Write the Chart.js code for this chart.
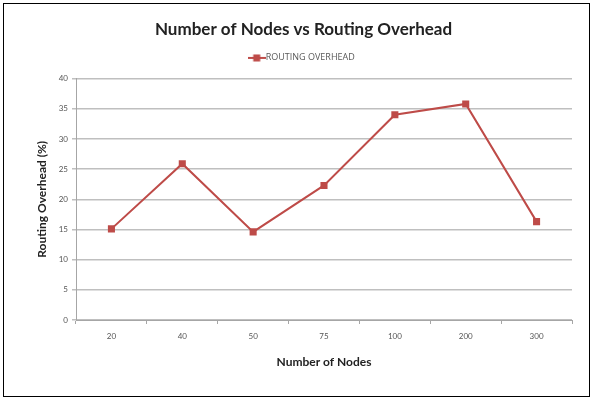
<!DOCTYPE html>
<html>
<head>
<meta charset="utf-8">
<script src="https://cdn.jsdelivr.net/npm/chart.js@4"></script>
<style>
  html, body { margin: 0; padding: 0; background: #fff; }
  #wrap { width: 593px; height: 400px; position: relative; }
</style>
</head>
<body>
<div id="wrap"><canvas id="c" width="593" height="400"></canvas></div>
<script>
// Number of nodes in the network (category axis)
const nodeCounts = ['20', '40', '50', '75', '100', '200', '300'];
// Routing overhead, in percent
const routingOverhead = [15.1, 25.9, 14.6, 22.3, 34.0, 35.8, 16.3];
// Value axis ticks
const yTickMin = 0;
const yTickMax = 40;
const yTickStep = 5;

const RED = '#be4b48';
const FONT = 'Lato, "Open Sans", sans-serif';

// Legend marker: short line with a square in the middle
const marker = document.createElement('canvas');
marker.width = 18; marker.height = 8;
(function () {
  const g = marker.getContext('2d');
  g.strokeStyle = RED; g.lineWidth = 2;
  g.beginPath(); g.moveTo(0, 4); g.lineTo(18, 4); g.stroke();
  g.fillStyle = RED; g.fillRect(5.5, 0.5, 7, 7);
})();

// White page with a thin black frame
const framePlugin = {
  id: 'frame',
  beforeDraw(chart) {
    const ctx = chart.ctx;
    ctx.save();
    ctx.fillStyle = '#fff';
    ctx.fillRect(0, 0, chart.width, chart.height);
    ctx.strokeStyle = '#000';
    ctx.lineWidth = 1;
    ctx.strokeRect(3.5, 3.5, chart.width - 7, chart.height - 7);
    ctx.restore();
  }
};

new Chart(document.getElementById('c'), {
  type: 'line',
  data: {
    labels: nodeCounts,
    datasets: [{
      label: 'ROUTING OVERHEAD',
      data: routingOverhead,
      borderColor: RED,
      backgroundColor: RED,
      borderWidth: 2,
      pointStyle: 'rect',
      pointRadius: 5,
      pointBorderWidth: 0,
      pointBackgroundColor: RED,
      tension: 0
    }]
  },
  options: {
    responsive: false,
    animation: false,
    devicePixelRatio: 1,
    layout: { padding: { left: 35, right: 21, top: 0, bottom: 18 } },
    plugins: {
      tooltip: { enabled: false },
      title: {
        display: true,
        text: 'Number of Nodes vs Routing Overhead',
        color: '#222',
        font: { family: FONT, size: 17, weight: 'bold' },
        padding: { top: 19, bottom: 3 }
      },
      // empty spacer between the legend and the plot
      subtitle: {
        display: true,
        text: '',
        weight: 500,
        font: { size: 1 },
        padding: { top: 0, bottom: 5 }
      },
      legend: {
        display: true,
        position: 'top',
        labels: {
          usePointStyle: true,
          pointStyle: marker,
          color: '#595959',
          font: { family: '"Open Sans", sans-serif', size: 9 },
          padding: 11
        }
      }
    },
    scales: {
      x: {
        type: 'category',
        offset: true,
        grid: {
          offset: true,
          drawOnChartArea: false,
          drawTicks: true,
          tickLength: 4,
          color: '#a6a6a6'
        },
        border: { color: '#a6a6a6', width: 1 },
        ticks: {
          color: '#555',
          font: { family: FONT, size: 8 },
          padding: 8,
          maxRotation: 0
        },
        title: {
          display: true,
          text: 'Number of Nodes',
          color: '#222',
          font: { family: FONT, size: 12, weight: 'bold' },
          padding: { top: 0, bottom: 13 }
        },
        afterFit(scale) { scale.height = 62; }
      },
      y: {
        min: yTickMin,
        max: yTickMax,
        ticks: {
          stepSize: yTickStep,
          color: '#555',
          font: { family: FONT, size: 8 },
          padding: 4
        },
        grid: {
          color: '#bfbfbf',
          lineWidth: 1.5,
          tickLength: 4
        },
        border: { color: '#a6a6a6', width: 1 },
        title: {
          display: true,
          text: 'Routing Overhead (%)',
          color: '#222',
          font: { family: FONT, size: 12, weight: 'bold' },
          padding: { top: 0, bottom: 0 }
        },
        afterFit(scale) { scale.width = 41; }
      }
    }
  },
  plugins: [framePlugin]
});
</script>
</body>
</html>
